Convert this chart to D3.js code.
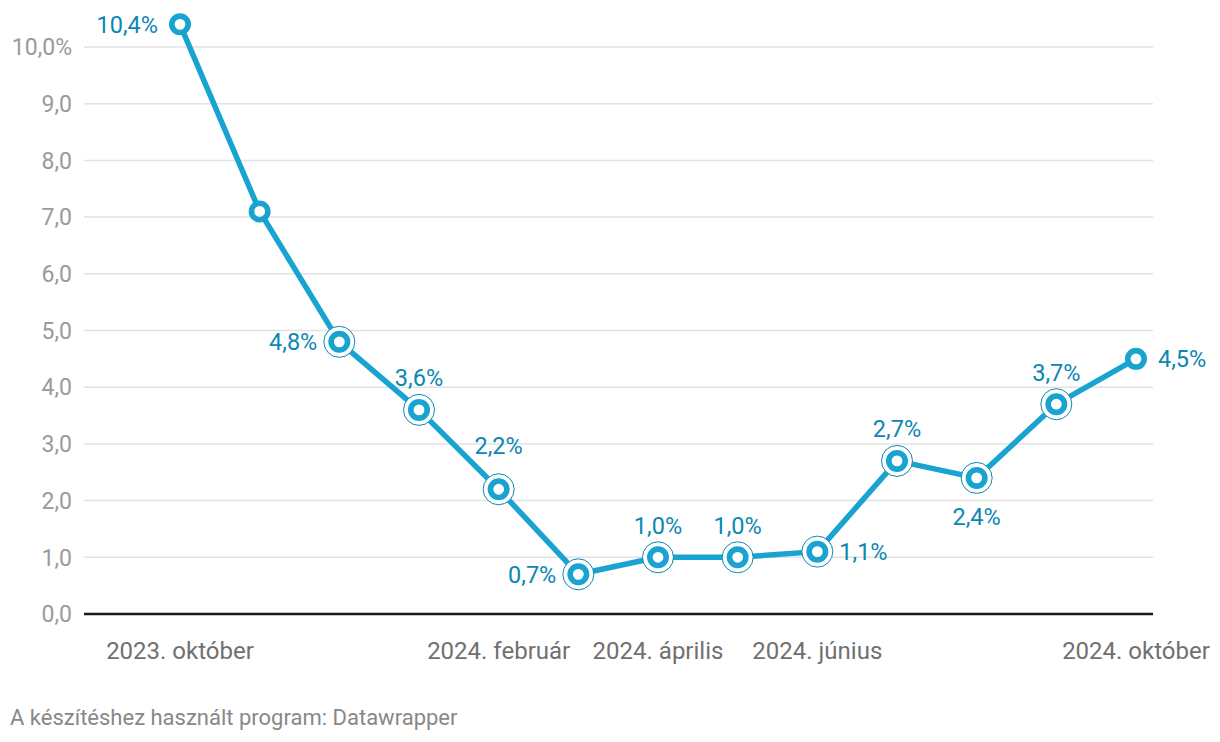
<!DOCTYPE html>
<html><head><meta charset="utf-8">
<script src="https://cdn.jsdelivr.net/npm/d3@7"></script>
<style>
body{margin:0;background:#fff;}
svg{display:block;font-family:Roboto,"Noto Sans",sans-serif;}
</style></head>
<body><svg id="c" width="1220" height="742"></svg>
<script>
const months = ["2023-10","2023-11","2023-12","2024-01","2024-02","2024-03","2024-04","2024-05","2024-06","2024-07","2024-08","2024-09","2024-10"];
const values = [10.4,7.1,4.8,3.6,2.2,0.7,1.0,1.0,1.1,2.7,2.4,3.7,4.5];
const labelPos = ["left","none","left","top","top","left","top","top","right","top","bottom","top","right"];
const halo = [false,false,true,true,true,true,true,true,true,true,true,true,false];
const yTicks = [0,1,2,3,4,5,6,7,8,9,10];
const xTickMonths = ["2023-10","2024-02","2024-04","2024-06","2024-10"];
const xTickLabels = ["2023. október","2024. február","2024. április","2024. június","2024. október"];
const footer = "A készítéshez használt program: Datawrapper";

const svg = d3.select("#c");
const x = d3.scalePoint().domain(months).range([180,1136]);
const y = d3.scaleLinear().domain([0,10]).range([614,47]);
const fmt = v => v.toFixed(1).replace(".", ",");
const left = 84, right = 1153;

// grid
svg.append("g").selectAll("line").data(yTicks.filter(d=>d>0)).join("line")
  .attr("x1",left).attr("x2",right).attr("y1",d=>y(d)).attr("y2",d=>y(d))
  .attr("stroke","#e2e2e2").attr("stroke-width",1.5);
svg.append("g").selectAll("text").data(yTicks).join("text")
  .attr("x",72).attr("y",d=>y(d)).attr("dy","0.36em").attr("text-anchor","end")
  .attr("font-size",23).attr("fill","#9a9a9a")
  .text(d=> d===10 ? fmt(d)+"%" : fmt(d));
// baseline
svg.append("line").attr("x1",left).attr("x2",right).attr("y1",y(0)).attr("y2",y(0))
  .attr("stroke","#1a1a1a").attr("stroke-width",2.5);
// x labels
svg.append("g").selectAll("text").data(xTickMonths).join("text")
  .attr("x",d=>x(d)).attr("y",659).attr("text-anchor","middle")
  .attr("font-size",24).attr("fill","#707070")
  .text((d,i)=>xTickLabels[i]);

const col = "#18a3d0", lcol = "#0b87b3";
svg.append("path").datum(values)
  .attr("d", d3.line().x((d,i)=>x(months[i])).y(d=>y(d)))
  .attr("fill","none").attr("stroke",col).attr("stroke-width",5.5).attr("stroke-linejoin","round");

const pts = svg.append("g").selectAll("g").data(values).join("g")
  .attr("transform",(d,i)=>`translate(${x(months[i])},${y(d)})`);
pts.filter((d,i)=>halo[i]).append("circle").attr("r",15.5)
  .attr("fill","#fff").attr("stroke",lcol).attr("stroke-width",1);
pts.append("circle").attr("r",8.2).attr("fill","#fff").attr("stroke",col).attr("stroke-width",5.6);

const lg = svg.append("g");
values.forEach((v,i)=>{
  const p = labelPos[i]; if(p==="none") return;
  const cx = x(months[i]), cy = y(v);
  let tx=cx, ty=cy, anchor="middle";
  if(p==="left"){ tx = cx-22; anchor="end"; }
  if(p==="right"){ tx = cx+22; anchor="start"; }
  if(p==="top"){ ty = cy-(v===2.2 ? 44 : 32); }
  if(p==="bottom"){ ty = cy+39; }
  lg.append("text").attr("x",tx).attr("y",ty).attr("dy","0.36em")
    .attr("text-anchor",anchor).attr("font-size",23.5).attr("fill",lcol)
    .text(fmt(v)+"%");
});

svg.append("text").attr("x",10).attr("y",725).attr("font-size",22).attr("fill","#888").text(footer);
</script></body></html>
